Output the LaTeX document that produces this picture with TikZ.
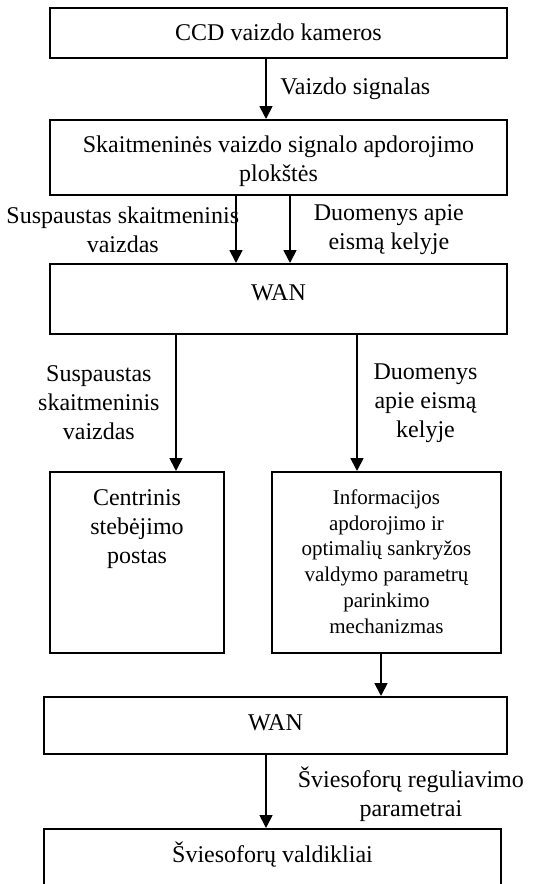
\documentclass[tikz,border=0pt]{standalone}
\usepackage{fontspec}
\setmainfont{Liberation Serif}
\usetikzlibrary{arrows.meta,fit,positioning}
\newcommand\colorBlock{black}
\newcommand\colorFlow{black}
\newcommand\blockFont{\fontsize{12pt}{14.5pt}\selectfont}
\newcommand\smallBlockFont{\fontsize{10.5pt}{12.85pt}\selectfont}
\tikzset{
	block/.style={draw=\colorBlock, line width=1pt, inner sep=0pt},
	blocktext/.style={anchor=north, inner sep=0pt, font=\blockFont, align=center},
	flow/.style={->, draw=\colorFlow, line width=0.9pt},
	flowlabel/.style={inner sep=0pt, font=\blockFont, align=center}
}

\begin{document}
\begin{tikzpicture}[x=0.5pt, y=-0.5pt, >={Triangle[width=6.5pt,length=6.5pt]}]
		\useasboundingbox (0,0) rectangle (554,884);
		\clip (0,0) rectangle (554,884);
		
		\node[block, fit={(50,8) (507,58)}] (cam) {};
		\node[blocktext, below=8.3pt of cam.north] (camtext) {CCD vaizdo kameros};
		\node[block, fit={(50,120) (507,195)}] (proc) {};
		\node[blocktext, below=8.3pt of proc.north] (proctext) {Skaitmeninės vaizdo signalo apdorojimo\\plokštės};
		\node[block, fit={(50,264) (507,334)}] (wanA) {};
		\node[blocktext, below=10.5pt of wanA.north] (wanAtext) {WAN};
		\node[block, fit={(50,472) (224,653)}] (post) {};
		\node[blocktext, below=9.3pt of post.north] (posttext) {Centrinis\\stebėjimo\\postas};
		\node[block, fit={(272,472) (501,653)}] (algo) {};
		\node[blocktext, font=\smallBlockFont, below=9.2pt of algo.north] (algotext)
			{Informacijos\\apdorojimo ir\\optimalių sankryžos\\valdymo parametrų\\parinkimo\\mechanizmas};
		\node[block, fit={(44,697) (507,754)}] (wanB) {};
		\node[blocktext, below=9pt of wanB.north] (wanBtext) {WAN};
		\node[block, fit={(44,829) (501,920)}] (lights) {};
		\node[blocktext, below=6.5pt of lights.north] (lightstext) {Šviesoforų valdikliai};
		
		\draw[flow] (266,0 |- cam.south) -- (266,0 |- proc.north)
			node[flowlabel, midway, right=6.7pt] {Vaizdo signalas};
		\draw[flow] (236,0 |- proc.south) -- (236,0 |- wanA.north)
			node[flowlabel, midway, anchor=east, xshift=2pt] {Suspaustas skaitmeninis\\vaizdas};
		\draw[flow] (290,0 |- proc.south) -- (290,0 |- wanA.north)
			node[flowlabel, midway, right=11.5pt] {Duomenys apie\\eismą kelyje};
		\foreach \col/\dest/\side/\txt in {176/post/left/{Suspaustas\\skaitmeninis\\vaizdas}, 357/algo/right/{Duomenys\\apie eismą\\kelyje}}{
			\draw[flow] (\col,0 |- wanA.south) -- (\col,0 |- \dest.north)
				node[flowlabel, midway, \side=7.8pt] {\txt};
		}
		\draw[flow] (381,0 |- algo.south) -- (381,0 |- wanB.north);
		\draw[flow] (266,0 |- wanB.south) -- (266,0 |- lights.north)
			node[flowlabel, midway, right=15.5pt, yshift=-1.5pt] {Šviesoforų reguliavimo\\parametrai};
	\end{tikzpicture}
\end{document}
